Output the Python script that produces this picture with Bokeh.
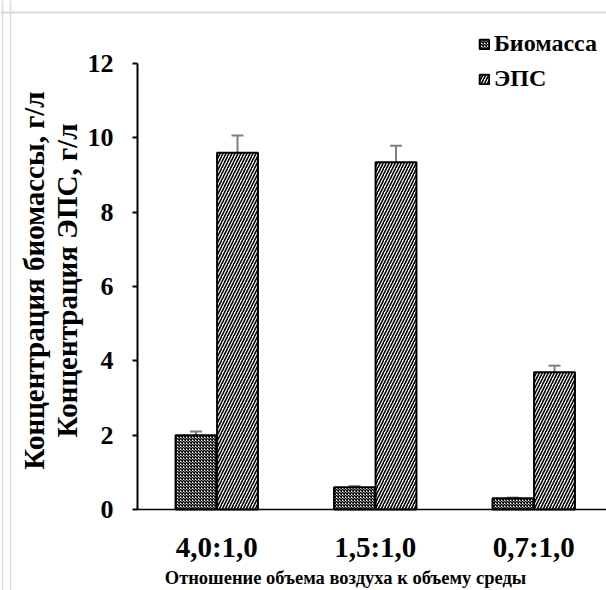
import math
import numpy as np
from bokeh.plotting import figure
from bokeh.models import (ColumnDataSource, Range1d, FixedTicker, Whisker, TeeHead,
                          Label, Legend, LegendItem, LinearAxis, Span)
from bokeh.embed import file_html
from bokeh.resources import INLINE

# ---- data ----
categories = ["4,0:1,0", "1,5:1,0", "0,7:1,0"]
biomass = [2.0, 0.6, 0.3]
biomass_err = [0.1, 0.03, 0.02]
eps = [9.6, 9.34, 3.69]
eps_err = [0.46, 0.45, 0.18]
y_ticks = [0, 2, 4, 6, 8, 10, 12]
series_names = ["Биомасса", "ЭПС"]
y_title_lines = ["Концентрация биомассы, г/л", "Концентрация ЭПС, г/л"]
x_title = "Отношение объема воздуха к объему среды"

FONT = "Liberation Serif"
offset = 0.131
bw = 0.258

W, H = 606, 590
px_x = 158.5          # pixels per category
px_y = 446 / 12.0     # pixels per unit
ax_x, ax_y = 137, 509  # axis origin in pixels

centers = np.arange(len(categories)) + 0.5
src_b = ColumnDataSource(dict(x=centers - offset, top=biomass,
                              up=np.array(biomass) + np.array(biomass_err),
                              lo=np.array(biomass) - np.array(biomass_err)))
src_e = ColumnDataSource(dict(x=centers + offset, top=eps,
                              up=np.array(eps) + np.array(eps_err),
                              lo=np.array(eps) - np.array(eps_err)))

p = figure(width=W, height=H, output_backend="svg", toolbar_location=None,
           x_range=Range1d(-ax_x / px_x, (W - ax_x) / px_x),
           y_range=Range1d(-(H - ax_y) / px_y, ax_y / px_y),
           x_axis_location=None, y_axis_location=None,
           min_border=0)
p.outline_line_color = None
p.xgrid.visible = False
p.ygrid.visible = False

# frame-edge decorations
for loc in (2, 10):
    p.add_layout(Span(location=loc, location_units="screen", dimension="height",
                      line_color="#d9d9d9", line_width=1.5))
p.add_layout(Span(location=H - 12, location_units="screen", dimension="width",
                  line_color="#d9d9d9", line_width=2))

rb = p.vbar(x="x", top="top", width=bw, source=src_b, fill_color="white",
            line_color="black", line_width=2,
            hatch_pattern="diagonal_cross", hatch_scale=3, hatch_weight=1.5,
            hatch_color="black")
re_ = p.vbar(x="x", top="top", width=bw, source=src_e, fill_color="white",
             line_color="black", line_width=2,
             hatch_pattern="right_diagonal_line", hatch_scale=6, hatch_weight=1.6,
             hatch_color="black")

for s in (src_b, src_e):
    w = Whisker(source=s, base="x", upper="up", lower="lo",
                line_color="#7f7f7f", line_width=2,
                upper_head=TeeHead(size=12, line_color="#7f7f7f", line_width=2),
                lower_head=TeeHead(size=12, line_color="#7f7f7f", line_width=2))
    p.add_layout(w)

# axes at fixed locations
yax = LinearAxis(fixed_location=0, bounds=(0, 12), ticker=FixedTicker(ticks=y_ticks))
yax.axis_line_width = 2
yax.axis_line_color = "black"
yax.major_tick_line_width = 2
yax.major_tick_out = 5
yax.major_tick_in = 0
yax.minor_tick_line_color = None
yax.major_label_standoff = 19
yax.major_label_text_font = FONT
yax.major_label_text_font_style = "bold"
yax.major_label_text_font_size = "26px"
yax.major_label_text_color = "black"
p.add_layout(yax, "left")

xax = LinearAxis(fixed_location=0, bounds=(0, (W - ax_x) / px_x),
                 ticker=FixedTicker(ticks=list(centers)))
xax.major_label_overrides = {float(c): cat for c, cat in zip(centers, categories)}
xax.axis_line_width = 1.5
xax.axis_line_color = "black"
xax.major_tick_line_color = None
xax.minor_tick_line_color = None
xax.major_label_standoff = 15
xax.major_label_text_font = FONT
xax.major_label_text_font_style = "bold"
xax.major_label_text_font_size = "29px"
xax.major_label_text_color = "black"
p.add_layout(xax, "below")

# titles
for xs, line in zip([33, 66], y_title_lines):
    p.add_layout(Label(x=xs, y=H - 280, x_units="screen", y_units="screen", text=line,
                       angle=math.pi / 2, text_align="center", text_baseline="middle",
                       text_font=FONT, text_font_style="bold", text_font_size="29px",
                       text_color="black"))
p.add_layout(Label(x=345, y=H - 577, x_units="screen", y_units="screen", text=x_title,
                   text_align="center", text_baseline="middle", text_font=FONT,
                   text_font_style="bold", text_font_size="18.5px", text_color="black"))

legend = Legend(items=[LegendItem(label=series_names[0], renderers=[rb]),
                       LegendItem(label=series_names[1], renderers=[re_])],
                location=(478, H - 92), orientation="vertical",
                border_line_color=None, background_fill_alpha=0,
                label_text_font=FONT, label_text_font_style="bold",
                label_text_font_size="24px", label_text_color="black",
                glyph_width=12, glyph_height=12, label_standoff=4,
                spacing=8, padding=0, margin=0, label_height=24)
p.add_layout(legend)

open("out.html", "w").write(file_html(p, INLINE))
